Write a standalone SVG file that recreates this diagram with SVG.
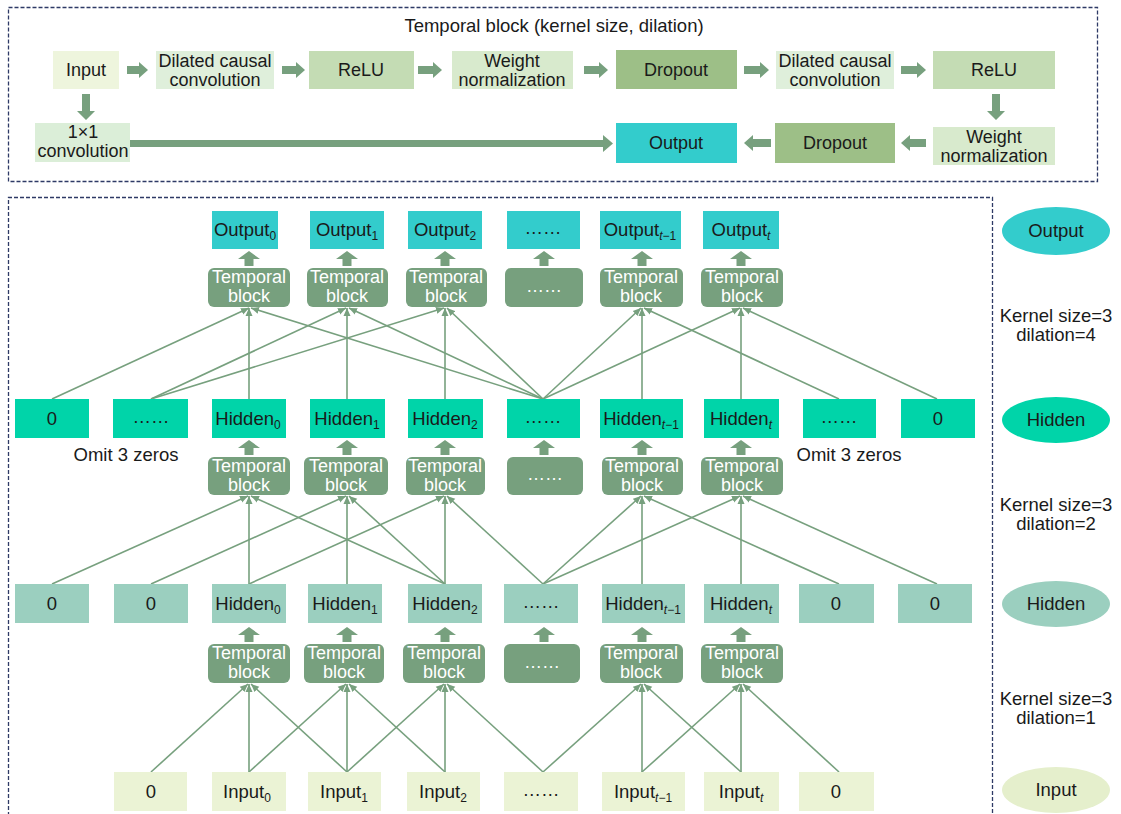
<svg xmlns="http://www.w3.org/2000/svg" width="1121" height="814" viewBox="0 0 1121 814">
<style>
text{font-family:"Liberation Sans",Arial,sans-serif;fill:#1a1a1a;text-anchor:middle}
.t18{font-size:18px}
.t17{font-size:18.5px}
.sub{font-size:12px}
.tb rect{fill:#77a07e}
.tb text{fill:#ffffff;font-size:18px}
.arr{fill:#77a07e}
.conn line{stroke:#77a07e;stroke-width:1.6;marker-end:url(#ah)}
.frame{fill:none;stroke:#2e3a66;stroke-width:1.3;stroke-dasharray:4 2}
.in0{fill:#eef5dd}.dil{fill:#dfefdb}.relu{fill:#c4dcb4}.wn{fill:#d8eacd}.drop{fill:#9dbf87}.one{fill:#dbeed8}
.out{fill:#33cccc}.h1{fill:#00d4a9}.h2{fill:#9bcfbf}.inp{fill:#ebf3d5}
</style>
<defs>
<marker id="ah" markerUnits="userSpaceOnUse" markerWidth="9" markerHeight="8" refX="8" refY="4" orient="auto"><path d="M0,0.5 L8,4 L0,7.5 z" fill="#77a07e"/></marker>
</defs>
<rect width="1121" height="814" fill="#ffffff"/>

<!-- top temporal block frame -->
<rect class="frame" x="8.5" y="7.5" width="1089" height="174"/>
<text class="t18" x="554" y="32" style="font-size:18.5px">Temporal block (kernel size, dilation)</text>

<g id="tb-input"><rect class="in0" x="53" y="51" width="66" height="38"/><text class="t18" x="86" y="76">Input</text></g>
<g id="tb-dil1"><rect class="dil" x="156" y="51" width="118" height="38"/><text class="t18" x="215" y="67">Dilated causal</text><text class="t18" x="215" y="86">convolution</text></g>
<g id="tb-relu1"><rect class="relu" x="309" y="51" width="105" height="38"/><text class="t18" x="361" y="76">ReLU</text></g>
<g id="tb-wn1"><rect class="wn" x="452" y="51" width="121" height="38"/><text class="t18" x="512" y="67">Weight</text><text class="t18" x="512" y="86">normalization</text></g>
<g id="tb-drop1"><rect class="drop" x="616" y="50" width="121" height="39"/><text class="t18" x="676" y="76">Dropout</text></g>
<g id="tb-dil2"><rect class="dil" x="776" y="51" width="118" height="38"/><text class="t18" x="835" y="67">Dilated causal</text><text class="t18" x="835" y="86">convolution</text></g>
<g id="tb-relu2"><rect class="relu" x="933" y="51" width="122" height="38"/><text class="t18" x="994" y="76">ReLU</text></g>
<g id="tb-wn2"><rect class="wn" x="933" y="127" width="122" height="38"/><text class="t18" x="994" y="143">Weight</text><text class="t18" x="994" y="162">normalization</text></g>
<g id="tb-drop2"><rect class="drop" x="775" y="123" width="120" height="40"/><text class="t18" x="835" y="149">Dropout</text></g>
<g id="tb-output"><rect class="out" x="616" y="123" width="121" height="40"/><text class="t18" x="676" y="149">Output</text></g>
<g id="tb-conv1x1"><rect class="one" x="35" y="123" width="95" height="39"/><text class="t18" x="83" y="138">1×1</text><text class="t18" x="83" y="157">convolution</text></g>

<g id="block-arrows" class="arr">
<polygon points="127,66 139,66 139,62 148,70 139,78 139,74 127,74"/>
<polygon points="282,66 296,66 296,62 305,70 296,78 296,74 282,74"/>
<polygon points="418,66 433,66 433,62 442,70 433,78 433,74 418,74"/>
<polygon points="584,66 599,66 599,62 608,70 599,78 599,74 584,74"/>
<polygon points="744,66 760,66 760,62 769,70 760,78 760,74 744,74"/>
<polygon points="901,66 917,66 917,62 926,70 917,78 917,74 901,74"/>
<polygon points="926,139 910,139 910,135 901,143 910,151 910,147 926,147"/>
<polygon points="771,139 753,139 753,135 744,143 753,151 753,147 771,147"/>
<polygon points="130,140 603,140 603,135 613,143.5 603,152 603,147 130,147"/>
<polygon points="82,94 90,94 90,111 95,111 86,120 77,111 82,111"/>
<polygon points="992,94 1000,94 1000,111 1005,111 996,120 987,111 992,111"/>
</g>

<!-- lower frame -->
<path class="frame" d="M8.5,816 V197.5 H992.5 V816"/>

<!-- connectors -->
<g id="connectors" class="conn">
<line x1="52" y1="399" x2="249" y2="308"/>
<line x1="249" y1="399" x2="249" y2="308"/>
<line x1="543" y1="399" x2="251" y2="308"/>
<line x1="151" y1="399" x2="346" y2="308"/>
<line x1="347" y1="399" x2="347" y2="308"/>
<line x1="543" y1="399" x2="349" y2="308"/>
<line x1="151" y1="399" x2="444" y2="308"/>
<line x1="445" y1="399" x2="445" y2="308"/>
<line x1="543" y1="399" x2="447" y2="308"/>
<line x1="543" y1="399" x2="641" y2="308"/>
<line x1="642" y1="399" x2="642" y2="308"/>
<line x1="839" y1="399" x2="644" y2="308"/>
<line x1="543" y1="399" x2="740" y2="308"/>
<line x1="741" y1="399" x2="741" y2="308"/>
<line x1="937" y1="399" x2="743" y2="308"/>
<line x1="52" y1="584" x2="248" y2="496"/>
<line x1="249" y1="584" x2="249" y2="496"/>
<line x1="445" y1="584" x2="251" y2="496"/>
<line x1="151" y1="584" x2="346" y2="496"/>
<line x1="347" y1="584" x2="347" y2="496"/>
<line x1="445" y1="584" x2="349" y2="496"/>
<line x1="249" y1="584" x2="444" y2="496"/>
<line x1="445" y1="584" x2="445" y2="496"/>
<line x1="543" y1="584" x2="447" y2="496"/>
<line x1="543" y1="584" x2="641" y2="496"/>
<line x1="642" y1="584" x2="642" y2="496"/>
<line x1="839" y1="584" x2="644" y2="496"/>
<line x1="543" y1="584" x2="740" y2="496"/>
<line x1="741" y1="584" x2="741" y2="496"/>
<line x1="937" y1="584" x2="743" y2="496"/>
<line x1="151" y1="772" x2="248" y2="684"/>
<line x1="249" y1="772" x2="249" y2="684"/>
<line x1="347" y1="772" x2="251" y2="684"/>
<line x1="249" y1="772" x2="346" y2="684"/>
<line x1="347" y1="772" x2="347" y2="684"/>
<line x1="445" y1="772" x2="349" y2="684"/>
<line x1="347" y1="772" x2="444" y2="684"/>
<line x1="445" y1="772" x2="445" y2="684"/>
<line x1="543" y1="772" x2="447" y2="684"/>
<line x1="543" y1="772" x2="641" y2="684"/>
<line x1="642" y1="772" x2="642" y2="684"/>
<line x1="741" y1="772" x2="644" y2="684"/>
<line x1="642" y1="772" x2="740" y2="684"/>
<line x1="741" y1="772" x2="741" y2="684"/>
<line x1="839" y1="772" x2="743" y2="684"/>
</g>

<!-- small up arrows -->
<g id="up-arrows" class="arr">
<polygon points="249,251 260,259 253.5,259 253.5,266 244.5,266 244.5,259 238,259"/>
<polygon points="347,251 358,259 351.5,259 351.5,266 342.5,266 342.5,259 336,259"/>
<polygon points="445,251 456,259 449.5,259 449.5,266 440.5,266 440.5,259 434,259"/>
<polygon points="544,251 555,259 548.5,259 548.5,266 539.5,266 539.5,259 533,259"/>
<polygon points="642,251 653,259 646.5,259 646.5,266 637.5,266 637.5,259 631,259"/>
<polygon points="741,251 752,259 745.5,259 745.5,266 736.5,266 736.5,259 730,259"/>
<polygon points="249,440 260,448 253.5,448 253.5,455 244.5,455 244.5,448 238,448"/>
<polygon points="347,440 358,448 351.5,448 351.5,455 342.5,455 342.5,448 336,448"/>
<polygon points="445,440 456,448 449.5,448 449.5,455 440.5,455 440.5,448 434,448"/>
<polygon points="544,440 555,448 548.5,448 548.5,455 539.5,455 539.5,448 533,448"/>
<polygon points="642,440 653,448 646.5,448 646.5,455 637.5,455 637.5,448 631,448"/>
<polygon points="741,440 752,448 745.5,448 745.5,455 736.5,455 736.5,448 730,448"/>
<polygon points="249,627 260,635 253.5,635 253.5,642 244.5,642 244.5,635 238,635"/>
<polygon points="347,627 358,635 351.5,635 351.5,642 342.5,642 342.5,635 336,635"/>
<polygon points="445,627 456,635 449.5,635 449.5,642 440.5,642 440.5,635 434,635"/>
<polygon points="544,627 555,635 548.5,635 548.5,642 539.5,642 539.5,635 533,635"/>
<polygon points="642,627 653,635 646.5,635 646.5,642 637.5,642 637.5,635 631,635"/>
<polygon points="741,627 752,635 745.5,635 745.5,642 736.5,642 736.5,635 730,635"/>
</g>

<!-- output row -->
<g id="out0"><rect class="out" x="212" y="211" width="66" height="38"/><text class="t17" x="245" y="236">Output<tspan class="sub" dy="4">0</tspan></text></g>
<g id="out1"><rect class="out" x="310" y="211" width="74" height="38"/><text class="t17" x="347" y="236">Output<tspan class="sub" dy="4">1</tspan></text></g>
<g id="out2"><rect class="out" x="408" y="211" width="74" height="38"/><text class="t17" x="445" y="236">Output<tspan class="sub" dy="4">2</tspan></text></g>
<g id="out-dots"><rect class="out" x="507" y="211" width="73" height="38"/><text class="t17" x="543" y="234">……</text></g>
<g id="out-tm1"><rect class="out" x="600" y="211" width="81" height="38"/><text class="t17" x="640" y="236">Output<tspan class="sub" dy="4" font-style="italic">t</tspan><tspan class="sub">−1</tspan></text></g>
<g id="out-t"><rect class="out" x="703" y="211" width="76" height="38"/><text class="t17" x="741" y="236">Output<tspan class="sub" dy="4" font-style="italic">t</tspan></text></g>

<!-- temporal block row 1 -->
<g id="tb1-0" class="tb"><rect x="208" y="268" width="82" height="39" rx="6"/><text x="249" y="283">Temporal</text><text x="249" y="302">block</text></g>
<g id="tb1-1" class="tb"><rect x="307" y="268" width="81" height="39" rx="6"/><text x="347" y="283">Temporal</text><text x="347" y="302">block</text></g>
<g id="tb1-2" class="tb"><rect x="406" y="268" width="81" height="39" rx="6"/><text x="446" y="283">Temporal</text><text x="446" y="302">block</text></g>
<g id="tb1-dots" class="tb"><rect x="505" y="268" width="78" height="39" rx="6"/><text x="544" y="292">……</text></g>
<g id="tb1-4" class="tb"><rect x="600" y="268" width="83" height="39" rx="6"/><text x="641" y="283">Temporal</text><text x="641" y="302">block</text></g>
<g id="tb1-5" class="tb"><rect x="701" y="268" width="82" height="39" rx="6"/><text x="742" y="283">Temporal</text><text x="742" y="302">block</text></g>

<!-- hidden row 1 -->
<g id="h1-z0"><rect class="h1" x="15" y="399" width="74" height="39"/><text class="t17" x="52" y="425">0</text></g>
<g id="h1-dl"><rect class="h1" x="113" y="399" width="75" height="39"/><text class="t17" x="151" y="423">……</text></g>
<g id="h1-0"><rect class="h1" x="212" y="399" width="74" height="39"/><text class="t17" x="248" y="425">Hidden<tspan class="sub" dy="4">0</tspan></text></g>
<g id="h1-1"><rect class="h1" x="310" y="399" width="75" height="39"/><text class="t17" x="347" y="425">Hidden<tspan class="sub" dy="4">1</tspan></text></g>
<g id="h1-2"><rect class="h1" x="408" y="399" width="75" height="39"/><text class="t17" x="445" y="425">Hidden<tspan class="sub" dy="4">2</tspan></text></g>
<g id="h1-dm"><rect class="h1" x="507" y="399" width="73" height="39"/><text class="t17" x="543" y="423">……</text></g>
<g id="h1-tm1"><rect class="h1" x="600" y="399" width="83" height="39"/><text class="t17" x="641" y="425">Hidden<tspan class="sub" dy="4" font-style="italic">t</tspan><tspan class="sub">−1</tspan></text></g>
<g id="h1-t"><rect class="h1" x="704" y="399" width="75" height="39"/><text class="t17" x="741" y="425">Hidden<tspan class="sub" dy="4" font-style="italic">t</tspan></text></g>
<g id="h1-dr"><rect class="h1" x="803" y="399" width="73" height="39"/><text class="t17" x="839" y="423">……</text></g>
<g id="h1-z9"><rect class="h1" x="901" y="399" width="74" height="39"/><text class="t17" x="938" y="425">0</text></g>
<text class="t17" x="126" y="461">Omit 3 zeros</text>
<text class="t17" x="849" y="461">Omit 3 zeros</text>

<!-- temporal block row 2 -->
<g id="tb2-0" class="tb"><rect x="208" y="457" width="82" height="38" rx="6"/><text x="249" y="472">Temporal</text><text x="249" y="491">block</text></g>
<g id="tb2-1" class="tb"><rect x="304" y="457" width="84" height="38" rx="6"/><text x="346" y="472">Temporal</text><text x="346" y="491">block</text></g>
<g id="tb2-2" class="tb"><rect x="406" y="457" width="79" height="38" rx="6"/><text x="445" y="472">Temporal</text><text x="445" y="491">block</text></g>
<g id="tb2-dots" class="tb"><rect x="507" y="457" width="76" height="38" rx="6"/><text x="545" y="480">……</text></g>
<g id="tb2-4" class="tb"><rect x="602" y="457" width="81" height="38" rx="6"/><text x="642" y="472">Temporal</text><text x="642" y="491">block</text></g>
<g id="tb2-5" class="tb"><rect x="701" y="457" width="82" height="38" rx="6"/><text x="742" y="472">Temporal</text><text x="742" y="491">block</text></g>

<!-- hidden row 2 -->
<g id="h2-z0"><rect class="h2" x="15" y="584" width="74" height="39"/><text class="t17" x="52" y="610">0</text></g>
<g id="h2-z1"><rect class="h2" x="114" y="584" width="74" height="39"/><text class="t17" x="151" y="610">0</text></g>
<g id="h2-0"><rect class="h2" x="212" y="584" width="74" height="39"/><text class="t17" x="248" y="610">Hidden<tspan class="sub" dy="4">0</tspan></text></g>
<g id="h2-1"><rect class="h2" x="308" y="584" width="74" height="39"/><text class="t17" x="345" y="610">Hidden<tspan class="sub" dy="4">1</tspan></text></g>
<g id="h2-2"><rect class="h2" x="408" y="584" width="74" height="39"/><text class="t17" x="445" y="610">Hidden<tspan class="sub" dy="4">2</tspan></text></g>
<g id="h2-dm"><rect class="h2" x="504" y="584" width="74" height="39"/><text class="t17" x="541" y="608">……</text></g>
<g id="h2-tm1"><rect class="h2" x="602" y="584" width="83" height="39"/><text class="t17" x="643" y="610">Hidden<tspan class="sub" dy="4" font-style="italic">t</tspan><tspan class="sub">−1</tspan></text></g>
<g id="h2-t"><rect class="h2" x="704" y="584" width="75" height="39"/><text class="t17" x="741" y="610">Hidden<tspan class="sub" dy="4" font-style="italic">t</tspan></text></g>
<g id="h2-z8"><rect class="h2" x="799" y="584" width="75" height="39"/><text class="t17" x="836" y="610">0</text></g>
<g id="h2-z9"><rect class="h2" x="898" y="584" width="74" height="39"/><text class="t17" x="935" y="610">0</text></g>

<!-- temporal block row 3 -->
<g id="tb3-0" class="tb"><rect x="208" y="644" width="82" height="39" rx="6"/><text x="249" y="659">Temporal</text><text x="249" y="678">block</text></g>
<g id="tb3-1" class="tb"><rect x="304" y="644" width="80" height="39" rx="6"/><text x="344" y="659">Temporal</text><text x="344" y="678">block</text></g>
<g id="tb3-2" class="tb"><rect x="403" y="644" width="82" height="39" rx="6"/><text x="444" y="659">Temporal</text><text x="444" y="678">block</text></g>
<g id="tb3-dots" class="tb"><rect x="504" y="644" width="76" height="39" rx="6"/><text x="542" y="668">……</text></g>
<g id="tb3-4" class="tb"><rect x="600" y="644" width="83" height="39" rx="6"/><text x="641" y="659">Temporal</text><text x="641" y="678">block</text></g>
<g id="tb3-5" class="tb"><rect x="701" y="644" width="82" height="39" rx="6"/><text x="742" y="659">Temporal</text><text x="742" y="678">block</text></g>

<!-- input row -->
<g id="in-z0"><rect class="inp" x="114" y="772" width="73" height="39"/><text class="t17" x="151" y="798">0</text></g>
<g id="in-0"><rect class="inp" x="212" y="772" width="74" height="39"/><text class="t17" x="247" y="798">Input<tspan class="sub" dy="4">0</tspan></text></g>
<g id="in-1"><rect class="inp" x="308" y="772" width="73" height="39"/><text class="t17" x="344" y="798">Input<tspan class="sub" dy="4">1</tspan></text></g>
<g id="in-2"><rect class="inp" x="407" y="772" width="73" height="39"/><text class="t17" x="443" y="798">Input<tspan class="sub" dy="4">2</tspan></text></g>
<g id="in-dm"><rect class="inp" x="504" y="772" width="74" height="39"/><text class="t17" x="541" y="796">……</text></g>
<g id="in-tm1"><rect class="inp" x="602" y="772" width="83" height="39"/><text class="t17" x="643" y="798">Input<tspan class="sub" dy="4" font-style="italic">t</tspan><tspan class="sub">−1</tspan></text></g>
<g id="in-t"><rect class="inp" x="704" y="772" width="75" height="39"/><text class="t17" x="741" y="798">Input<tspan class="sub" dy="4" font-style="italic">t</tspan></text></g>
<g id="in-z7"><rect class="inp" x="799" y="772" width="75" height="39"/><text class="t17" x="836" y="798">0</text></g>

<!-- legend -->
<g id="lg-output"><ellipse class="out" cx="1056" cy="231" rx="54" ry="24"/><text class="t17" x="1056" y="237">Output</text></g>
<g id="lg-k4"><text class="t17" x="1056" y="322">Kernel size=3</text><text class="t17" x="1056" y="341">dilation=4</text></g>
<g id="lg-hidden1"><ellipse class="h1" cx="1056" cy="420" rx="54" ry="23"/><text class="t17" x="1056" y="426">Hidden</text></g>
<g id="lg-k2"><text class="t17" x="1056" y="511">Kernel size=3</text><text class="t17" x="1056" y="530">dilation=2</text></g>
<g id="lg-hidden2"><ellipse class="h2" cx="1056" cy="604" rx="54" ry="23"/><text class="t17" x="1056" y="610">Hidden</text></g>
<g id="lg-k1"><text class="t17" x="1056" y="705">Kernel size=3</text><text class="t17" x="1056" y="724">dilation=1</text></g>
<g id="lg-input"><ellipse class="inp" cx="1056" cy="790" rx="54" ry="23" style="fill:#e5efcc"/><text class="t17" x="1056" y="796">Input</text></g>
</svg>
